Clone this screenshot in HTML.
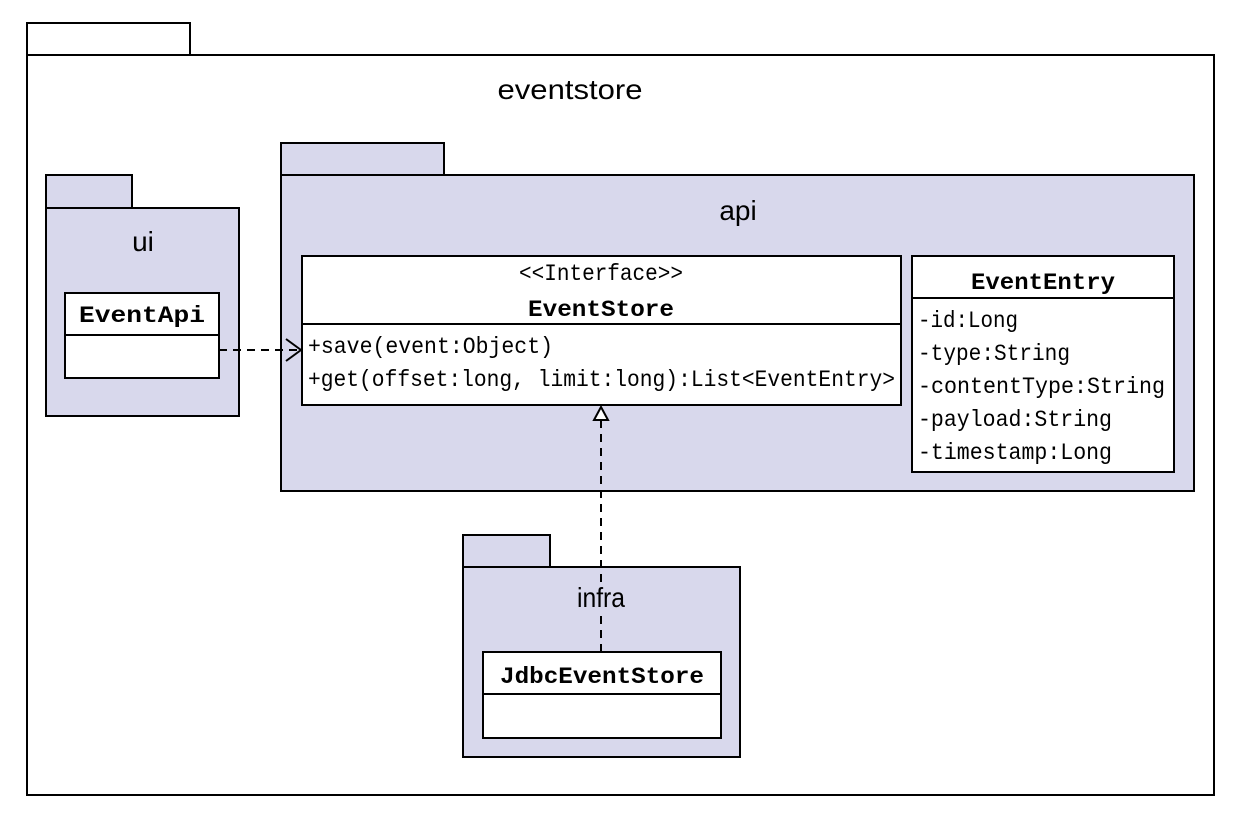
<!DOCTYPE html>
<html><head><meta charset="utf-8"><style>
html,body{margin:0;padding:0;background:#fff}
svg{display:block}
.m{font-family:"Liberation Mono","DejaVu Sans Mono",monospace;font-size:23px;fill:#000}
.b{font-weight:bold}
.s{font-family:"Liberation Sans","DejaVu Sans",sans-serif;font-size:28px;fill:#000}
</style></head><body>
<svg width="1236" height="817" viewBox="0 0 1236 817" xmlns="http://www.w3.org/2000/svg">
<g stroke="#000" stroke-width="2">
<rect x="27" y="23" width="163" height="32" fill="#fff"/>
<rect x="27" y="55" width="1187" height="740" fill="#fff"/>
<rect x="281" y="143" width="163" height="32" fill="#d8d8ec"/>
<rect x="281" y="175" width="913" height="316" fill="#d8d8ec"/>
<rect x="46" y="175" width="86" height="33" fill="#d8d8ec"/>
<rect x="46" y="208" width="193" height="208" fill="#d8d8ec"/>
<rect x="463" y="535" width="87" height="32" fill="#d8d8ec"/>
<rect x="463" y="567" width="277" height="190" fill="#d8d8ec"/>
<rect x="65" y="293" width="154" height="85" fill="#fff"/>
<line x1="65" y1="335" x2="219" y2="335"/>
<rect x="302" y="256" width="599" height="149" fill="#fff"/>
<line x1="302" y1="324" x2="901" y2="324"/>
<rect x="912" y="256" width="262" height="216" fill="#fff"/>
<line x1="912" y1="298" x2="1174" y2="298"/>
<rect x="483" y="652" width="238" height="86" fill="#fff"/>
<line x1="483" y1="694" x2="721" y2="694"/>
</g>
<g stroke="#000" stroke-width="2" fill="none">
<line x1="219" y1="350" x2="300" y2="350" stroke-dasharray="8,6"/>
<polyline points="286,339 301,350 286,361"/>
<line x1="601" y1="652" x2="601" y2="420" stroke-dasharray="8,6"/>
<polygon points="601,407 594,420 608,420" fill="#fff"/>
</g>
<rect x="578" y="584" width="46" height="26" fill="#d8d8ec"/>
<text class="s" x="570" y="99" text-anchor="middle" textLength="145" lengthAdjust="spacingAndGlyphs">eventstore</text>
<text class="s" x="738" y="220" text-anchor="middle">api</text>
<text class="s" x="143" y="251" text-anchor="middle">ui</text>
<text class="s" x="601" y="607" text-anchor="middle" textLength="48" lengthAdjust="spacingAndGlyphs">infra</text>
<text class="m b" x="142" y="322" text-anchor="middle" textLength="126" lengthAdjust="spacingAndGlyphs">EventApi</text>
<text class="m" x="601" y="280" text-anchor="middle" textLength="164" lengthAdjust="spacingAndGlyphs">&lt;&lt;Interface&gt;&gt;</text>
<text class="m b" x="601" y="316" text-anchor="middle" textLength="146" lengthAdjust="spacingAndGlyphs">EventStore</text>
<text class="m" x="308" y="353" textLength="245" lengthAdjust="spacingAndGlyphs">+save(event:Object)</text>
<text class="m" x="308" y="386" textLength="587" lengthAdjust="spacingAndGlyphs">+get(offset:long, limit:long):List&lt;EventEntry&gt;</text>
<text class="m b" x="1043" y="289" text-anchor="middle" textLength="144" lengthAdjust="spacingAndGlyphs">EventEntry</text>
<text class="m" x="918" y="327" textLength="100" lengthAdjust="spacingAndGlyphs">-id:Long</text>
<text class="m" x="918" y="360" textLength="152" lengthAdjust="spacingAndGlyphs">-type:String</text>
<text class="m" x="918" y="393" textLength="247" lengthAdjust="spacingAndGlyphs">-contentType:String</text>
<text class="m" x="918" y="426" textLength="194" lengthAdjust="spacingAndGlyphs">-payload:String</text>
<text class="m" x="918" y="459" textLength="194" lengthAdjust="spacingAndGlyphs">-timestamp:Long</text>
<text class="m b" x="602" y="683" text-anchor="middle" textLength="204" lengthAdjust="spacingAndGlyphs">JdbcEventStore</text>
</svg>
</body></html>
